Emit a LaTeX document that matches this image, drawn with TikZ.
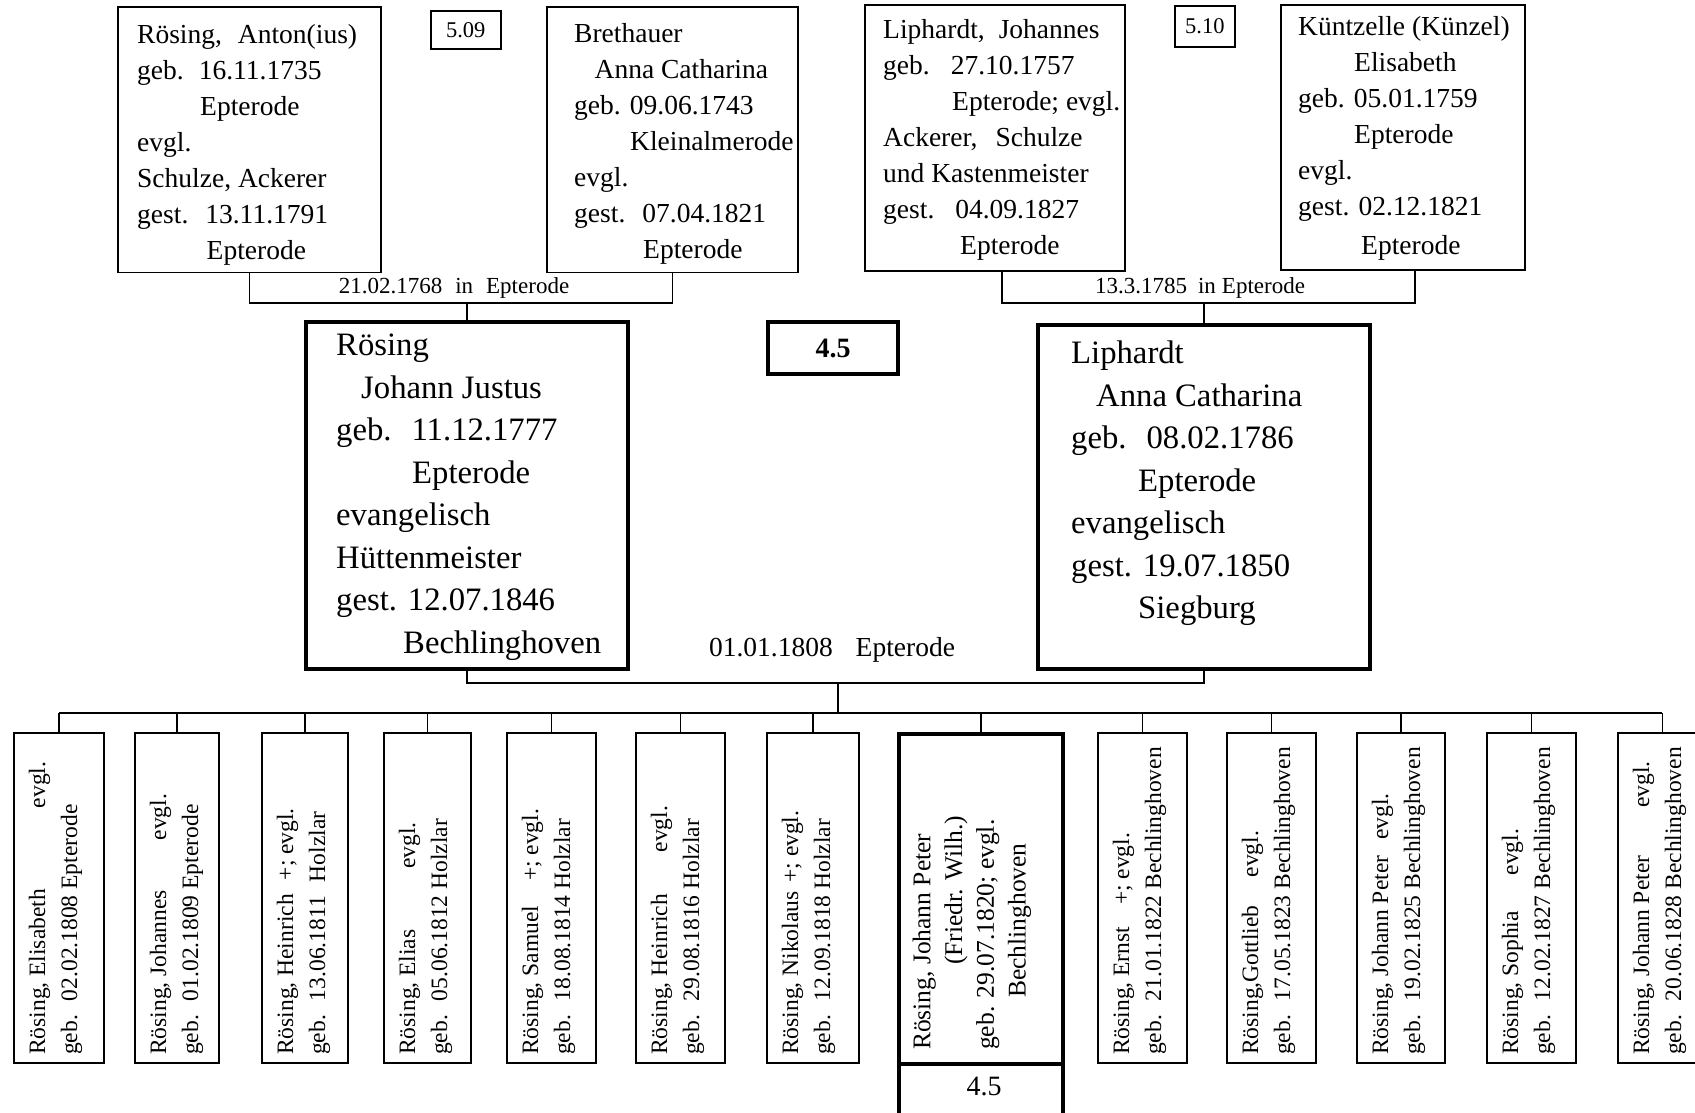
\documentclass[tikz,border=0pt]{standalone}
\usepackage{fontspec}
\setmainfont{Liberation Serif}
\usetikzlibrary{calc}

% font sizes (1pt = 1 unit of the picture)
\newcommand\fparent{\fontsize{27.5}{36}\selectfont}
\newcommand\fmain{\fontsize{32.7}{42.5}\selectfont}
\newcommand\fkid{\fontsize{23.5}{32}\selectfont}
\newcommand\fkidmain{\fontsize{25.5}{31.7}\selectfont}
\newcommand\fwed{\fontsize{23}{27}\selectfont}
\newcommand\fwedmain{\fontsize{27.5}{32}\selectfont}
\newcommand\fref{\fontsize{22.5}{26}\selectfont}

\tikzset{
  card/.style={draw, rectangle, line width=1.6pt, inner sep=0pt, anchor=north west},
  heavycard/.style={card, line width=4pt},
  conn/.style={line width=1.5pt},
  cardtext/.style={inner sep=0pt, anchor=north west, align=left},
  kidtext/.style={cardtext, rotate=90, font=\fkid},
  kidcard/.style={card, minimum height=330pt},
}

% one child card: name, left edge, width, text
\newcommand\kidcard[4]{%
  \node[kidcard, minimum width=#3pt] (#1) at (#2,732) {};
  \node[kidtext] (#1t) at (#2+9.5,1055) {\strut #4};
}

\begin{document}
\begin{tikzpicture}[x=1pt,y=-1pt]
\useasboundingbox (0,0) rectangle (1695,1113);
\fill[white] (0,0) rectangle (1695,1113);
\clip (0,0) rectangle (1695,1113);

% ---- levels of the connecting lines
\coordinate (lvlA) at (0,303);
\coordinate (lvlB) at (0,683);
\coordinate (lvlC) at (0,713);

% ---- grandparents
\node[card, minimum width=263pt, minimum height=265pt] (A) at (117,6.5) {};
\node[cardtext, font=\fparent] (At) at (137,17.8) {\strut R\"osing,\hspace{16pt}Anton(ius)\\
geb.\hspace{15pt}16.11.1735\\
\hspace*{63pt}Epterode\\
evgl.\\
Schulze, Ackerer\\
gest.\hspace{17pt}13.11.1791\\
\hspace*{69.5pt}Epterode};

\node[card, minimum width=70pt, minimum height=38pt] (r509) at (430,10) {};
\node[font=\fref, inner sep=0pt] (r509t) at (r509.center) {5.09};

\node[card, minimum width=251pt, minimum height=265pt] (B) at (546,6.5) {};
\node[cardtext, font=\fparent] (Bt) at (574,17.3) {\strut Brethauer\\
\hspace*{20.5pt}Anna Catharina\\
geb. 09.06.1743\\
\hspace*{56pt}Kleinalmerode\\
evgl.\\
gest.\hspace{17pt}07.04.1821\\
\hspace*{69pt}Epterode};

\node[card, minimum width=260pt, minimum height=266pt] (C) at (864,4) {};
\node[cardtext, font=\fparent] (Ct) at (883,12.8) {\strut Liphardt,\hspace{14pt}Johannes\\
geb.\hspace{21pt}27.10.1757\\
\hspace*{69pt}Epterode; evgl.\\
Ackerer,\hspace{18pt}Schulze\\
und Kastenmeister\\
gest.\hspace{21pt}04.09.1827\\
\hspace*{77pt}Epterode};

\node[card, minimum width=60pt, minimum height=41pt] (r510) at (1174,5) {};
\node[font=\fref, inner sep=0pt] (r510t) at (r510.center) {5.10};

\node[card, minimum width=244pt, minimum height=265pt] (D) at (1280,4) {};
\node[cardtext, font=\fparent] (Dt) at (1298,9.8) {\strut K\"untzelle (K\"unzel)\\
\hspace*{56pt}Elisabeth\\
geb. 05.01.1759\\
\hspace*{56pt}Epterode\\
evgl.\\
gest. 02.12.1821\\[3pt]
\hspace*{63pt}Epterode};

% ---- parents
\node[heavycard, minimum width=322pt, minimum height=347pt] (E) at (304,320) {};
\node[cardtext, font=\fmain] (Et) at (336,326) {\strut R\"osing\\
\hspace*{25pt}Johann Justus\\
geb.\hspace{20pt}11.12.1777\\
\hspace*{76pt}Epterode\\
evangelisch\\
H\"uttenmeister\\
gest. 12.07.1846\\
\hspace*{67pt}Bechlinghoven};

\node[heavycard, minimum width=130pt, minimum height=52pt] (R45) at (766,320) {};
\node[font=\fontsize{28}{32}\selectfont\bfseries, inner sep=0pt] (R45t) at (R45.center) {4.5};

\node[heavycard, minimum width=332pt, minimum height=344pt] (F) at (1036,323) {};
\node[cardtext, font=\fmain] (Ft) at (1071,333.8) {\strut Liphardt\\
\hspace*{25pt}Anna Catharina\\
geb.\hspace{20pt}08.02.1786\\
\hspace*{67pt}Epterode\\
evangelisch\\
gest. 19.07.1850\\
\hspace*{67pt}Siegburg};

% ---- marriage lines of the grandparents
\draw[conn] (A.south) |- (E.north |- lvlA) -| (B.south);
\draw[conn] (E.north |- lvlA) -- (E.north);
\node[font=\fwed, inner sep=0pt] (w1) at (454,288) {21.02.1768\hspace{13pt}in\hspace{13pt}Epterode};

\draw[conn] ($(C.south)+(7,0)$) |- (F.north |- lvlA) -| ($(D.south)+(12,0)$);
\draw[conn] (F.north |- lvlA) -- (F.north);
\node[font=\fwed, inner sep=0pt] (w2) at (1200,288) {13.3.1785\hspace{11pt}in\hspace{6pt}Epterode};

% ---- marriage of the parents
\coordinate (wed) at (838,683);
\node[font=\fwedmain, inner sep=0pt] (w3) at (832,650) {01.01.1808\hspace{23pt}Epterode};
\draw[conn] (E.south) |- (wed) -| (F.south);

% ---- children
\kidcard{K1}{13}{90}{R\"osing, Elisabeth\hspace{81pt}evgl.\\geb.\hspace{14pt}02.02.1808 Epterode}
\kidcard{K2}{134}{84}{R\"osing, Johannes\hspace{50pt}evgl.\\geb.\hspace{14pt}01.02.1809 Epterode}
\kidcard{K3}{261}{86}{R\"osing, Heinrich\hspace{14pt}+; evgl.\\geb.\hspace{14pt}13.06.1811\hspace{14pt}Holzlar}
\kidcard{K4}{383}{87}{R\"osing, Elias\hspace{61pt}evgl.\\geb.\hspace{14pt}05.06.1812 Holzlar}
\kidcard{K5}{506}{89}{R\"osing, Samuel\hspace{25pt}+; evgl.\\geb.\hspace{14pt}18.08.1814 Holzlar}
\kidcard{K6}{635}{89}{R\"osing, Heinrich\hspace{42pt}evgl.\\geb.\hspace{14pt}29.08.1816 Holzlar}
\kidcard{K7}{766}{92}{R\"osing, Nikolaus\hspace{9pt}+; evgl.\\geb.\hspace{14pt}12.09.1818 Holzlar}

\node[kidcard, line width=4pt, minimum width=164pt] (K8) at (897,732) {};
\node[kidtext, font=\fkidmain] (K8t) at (908,1050) {\strut R\"osing, Johann Peter\\
\hspace*{85pt}(Friedr. Wilh.)\\
geb. 29.07.1820; evgl.\\
\hspace*{52pt}Bechlinghoven};
\node[heavycard, minimum width=164pt, minimum height=80pt] (K8r) at (897,1062) {};
\node[font=\fontsize{28}{32}\selectfont, inner sep=0pt] (K8rt) at (984,1086) {4.5};

\kidcard{K9}{1097}{89}{R\"osing, Ernst\hspace{22pt}+; evgl.\\geb.\hspace{14pt}21.01.1822 Bechlinghoven}
\kidcard{K10}{1226}{89}{R\"osing,Gottlieb\hspace{28pt}evgl.\\geb.\hspace{14pt}17.05.1823 Bechlinghoven}
\kidcard{K11}{1356}{88}{R\"osing, Johann Peter\hspace{16pt}evgl.\\geb.\hspace{14pt}19.02.1825 Bechlinghoven}
\kidcard{K12}{1486}{89}{R\"osing, Sophia\hspace{36pt}evgl.\\geb.\hspace{14pt}12.02.1827 Bechlinghoven}
\kidcard{K13}{1617}{89}{R\"osing, Johann Peter\hspace{48pt}evgl.\\geb.\hspace{14pt}20.06.1828 Bechlinghoven}

% ---- sibling bus
\draw[conn] (wed) -- (wed |- lvlC);
\draw[conn] (K1.north |- lvlC) -- (K13.north |- lvlC);
\foreach \k in {K1,K2,K3,K4,K5,K6,K7,K8,K9,K10,K11,K12,K13}
  \draw[conn] (\k.north |- lvlC) -- (\k.north);
\end{tikzpicture}
\end{document}
